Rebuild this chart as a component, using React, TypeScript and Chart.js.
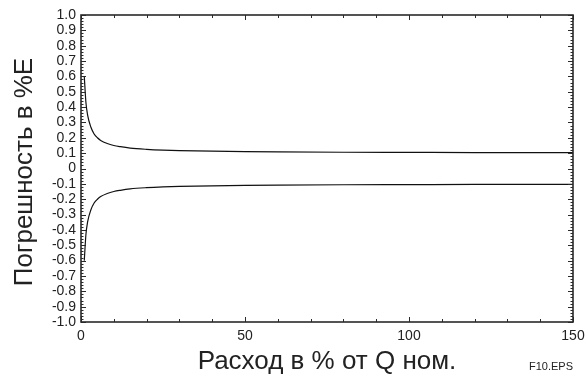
import React, { useEffect, useRef } from "react";
import { Chart, registerables } from "chart.js";

Chart.register(...registerables);

// Flow rate, % of nominal
const flowPct = [1, 1.5, 2, 3, 4, 5, 6, 8, 10, 12, 15, 20, 25, 30, 40, 50, 60, 80, 100, 120, 150];
// Upper error limit, % of reading
const upperError = [0.6, 0.43, 0.35, 0.27, 0.225, 0.2, 0.183, 0.163, 0.15, 0.142, 0.133, 0.125, 0.12, 0.117, 0.113, 0.11, 0.108, 0.106, 0.105, 0.104, 0.103];
// Lower error limit, % of reading
const lowerError = [-0.6, -0.43, -0.35, -0.27, -0.225, -0.2, -0.183, -0.163, -0.15, -0.142, -0.133, -0.125, -0.12, -0.117, -0.113, -0.11, -0.108, -0.106, -0.105, -0.104, -0.103];

const xMin = 0;
const xMax = 150;
const xStep = 50;
const xMinorStep = 10;
const yMin = -1;
const yMax = 1;
const yStep = 0.1;
const yMinorDivisions = 5;

const yAxisTitle = "Погрешность в %E";
const xAxisTitle = "Расход в % от Q ном.";
const figureLabel = "F10.EPS";

const FONT = '"Liberation Sans", Arial, Helvetica, sans-serif';

const framePlugin = {
  id: "framePlugin",
  afterDraw(chart: any) {
    const { ctx, chartArea: a, scales } = chart;
    const x = scales.x;
    const y = scales.y;
    ctx.save();
    ctx.strokeStyle = "#2a2a2a";
    ctx.lineWidth = 1;
    ctx.beginPath();
    for (let v = xMin; v <= xMax + 1e-9; v += xMinorStep) {
      const px = Math.round(x.getPixelForValue(v)) + 0.5;
      const len = v % xStep === 0 ? 5 : 3;
      ctx.moveTo(px, a.bottom);
      ctx.lineTo(px, a.bottom - len);
      ctx.moveTo(px, a.top);
      ctx.lineTo(px, a.top + len);
    }
    const nMinor = Math.round((yMax - yMin) / yStep) * yMinorDivisions;
    for (let i = 0; i <= nMinor; i++) {
      const v = yMin + (i * yStep) / yMinorDivisions;
      const py = Math.round(y.getPixelForValue(v)) + 0.5;
      const len = i % yMinorDivisions === 0 ? 5 : 2.5;
      ctx.moveTo(a.left, py);
      ctx.lineTo(a.left + len, py);
      ctx.moveTo(a.right, py);
      ctx.lineTo(a.right - len, py);
    }
    ctx.stroke();

    ctx.lineWidth = 1.6;
    ctx.strokeRect(a.left, a.top, a.right - a.left, a.bottom - a.top);

    ctx.fillStyle = "#222";
    ctx.textAlign = "center";
    ctx.textBaseline = "alphabetic";
    ctx.font = `26px ${FONT}`;
    ctx.fillText(xAxisTitle, (a.left + a.right) / 2, 369);

    ctx.save();
    ctx.translate(32, 172);
    ctx.rotate(-Math.PI / 2);
    ctx.font = `26px ${FONT}`;
    ctx.fillText(yAxisTitle, 0, 0);
    ctx.restore();

    ctx.font = `11px ${FONT}`;
    ctx.fillText(figureLabel, 551, 370);
    ctx.restore();
  },
};

export default function App() {
  const canvasRef = useRef<HTMLCanvasElement | null>(null);

  useEffect(() => {
    document.body.style.margin = "0";
    const canvas = canvasRef.current;
    if (!canvas) return;
    const chart = new Chart(canvas, {
      type: "line",
      data: {
        datasets: [
          {
            label: "upper",
            data: flowPct.map((f, i) => ({ x: f, y: upperError[i] })),
            borderColor: "#111",
            borderWidth: 1.2,
            pointRadius: 0,
            cubicInterpolationMode: "monotone",
            fill: false,
          },
          {
            label: "lower",
            data: flowPct.map((f, i) => ({ x: f, y: lowerError[i] })),
            borderColor: "#111",
            borderWidth: 1.2,
            pointRadius: 0,
            cubicInterpolationMode: "monotone",
            fill: false,
          },
        ],
      },
      options: {
        responsive: false,
        animation: false,
        layout: { padding: { left: 0, top: 15, right: 14, bottom: 0 } },
        plugins: {
          legend: { display: false },
          tooltip: { enabled: false },
          title: { display: false },
        },
        scales: {
          x: {
            type: "linear",
            min: xMin,
            max: xMax,
            grid: { display: false, drawTicks: false },
            border: { display: false },
            ticks: {
              stepSize: xStep,
              padding: 6,
              color: "#222",
              font: { family: FONT, size: 14 },
              maxRotation: 0,
            },
            afterFit(scale: any) {
              scale.height = 61;
              scale.paddingLeft = 0;
              scale.paddingRight = 0;
            },
          },
          y: {
            type: "linear",
            min: yMin,
            max: yMax,
            grid: { display: false, drawTicks: false },
            border: { display: false },
            ticks: {
              stepSize: yStep,
              padding: 5,
              color: "#222",
              autoSkip: false,
              font: { family: FONT, size: 14 },
              callback: (v: any) => (Math.abs(Number(v)) < 1e-9 ? "0" : Number(v).toFixed(1)),
            },
            afterFit(scale: any) {
              scale.width = 81;
              scale.paddingTop = 0;
              scale.paddingBottom = 0;
            },
          },
        },
      },
      plugins: [framePlugin],
    } as any);
    return () => chart.destroy();
  }, []);

  return (
    <div style={{ width: 587, height: 383, background: "#fff" }}>
      <canvas ref={canvasRef} width={587} height={383} />
    </div>
  );
}
